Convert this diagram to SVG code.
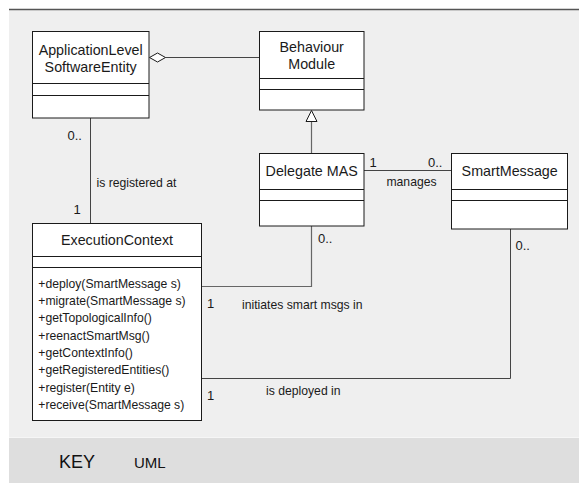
<svg xmlns="http://www.w3.org/2000/svg" width="579" height="483" viewBox="0 0 579 483">
  <style>
    .box { fill: #ffffff; stroke: #1a1a1a; stroke-width: 1; }
    .div { stroke: #1a1a1a; stroke-width: 1; }
    .conn { fill: none; stroke: #444444; stroke-width: 1; }
    .gen { fill: none; stroke: #666666; stroke-width: 1.2; }
    .title { font-family: "Liberation Sans", Arial, sans-serif; font-size: 14.3px; fill: #1a1a1a; text-anchor: middle; }
    .op { font-family: "Liberation Sans", Arial, sans-serif; font-size: 12.2px; fill: #1a1a1a; }
    .lbl { font-family: "Liberation Sans", Arial, sans-serif; font-size: 12.2px; fill: #1a1a1a; }
    .mult { font-family: "Liberation Sans", Arial, sans-serif; font-size: 13px; fill: #1a1a1a; }
    .key { font-family: "Liberation Sans", Arial, sans-serif; fill: #111111; }
  </style>

  <!-- canvas -->
  <rect x="0" y="0" width="579" height="483" fill="#ffffff"/>
  <rect x="9" y="9" width="570" height="428" fill="#efefef"/>
  <line x1="9" y1="9.5" x2="579" y2="9.5" stroke="#555555" stroke-width="1.5"/>
  <rect x="9" y="438" width="570" height="45" fill="#dedede"/>
  <line x1="9" y1="437.5" x2="579" y2="437.5" stroke="#f6f6f6" stroke-width="1"/>

  <!-- connectors -->
  <g id="connectors">
    <!-- aggregation: ApplicationLevelSoftwareEntity <> BehaviourModule -->
    <line class="conn" x1="165.5" y1="57.5" x2="259" y2="57.5"/>
    <polygon points="149.5,57.5 157.5,53 165.5,57.5 157.5,62" fill="#ffffff" stroke="#1a1a1a" stroke-width="1"/>
    <!-- generalization: DelegateMAS -> BehaviourModule -->
    <line class="gen" x1="311.5" y1="121.5" x2="311.5" y2="153"/>
    <polygon points="311.5,110.5 306,121.5 317,121.5" fill="#ffffff" stroke="#1a1a1a" stroke-width="1"/>
    <!-- is registered at -->
    <line class="conn" x1="90.5" y1="118" x2="90.5" y2="223"/>
    <!-- manages -->
    <line class="conn" x1="364" y1="170.5" x2="451" y2="170.5"/>
    <!-- initiates smart msgs in -->
    <polyline class="gen" points="201.5,286.5 311.5,286.5 311.5,226"/>
    <!-- is deployed in -->
    <polyline class="conn" points="201.5,378.5 510.5,378.5 510.5,229"/>

    <text class="mult" x="67.5" y="140">0..</text>
    <text class="lbl" x="96.5" y="186.5">is registered at</text>
    <text class="mult" x="73.5" y="214">1</text>
    <text class="mult" x="369.5" y="167">1</text>
    <text class="mult" x="428" y="167">0..</text>
    <text class="lbl" x="411.5" y="186" text-anchor="middle">manages</text>
    <text class="mult" x="318" y="243">0..</text>
    <text class="mult" x="207" y="308">1</text>
    <text class="lbl" x="242" y="309">initiates smart msgs in</text>
    <text class="mult" x="515.5" y="250">0..</text>
    <text class="mult" x="207" y="400">1</text>
    <text class="lbl" x="266" y="395">is deployed in</text>
  </g>

  <!-- ApplicationLevelSoftwareEntity -->
  <g id="app-level-software-entity">
    <rect class="box" x="32.5" y="31.5" width="116.5" height="86.5"/>
    <line class="div" x1="32.5" y1="83.5" x2="149" y2="83.5"/>
    <line class="div" x1="32.5" y1="95.5" x2="149" y2="95.5"/>
    <text class="title" x="90.7" y="55">ApplicationLevel</text>
    <text class="title" x="90.7" y="72">SoftwareEntity</text>
  </g>

  <!-- BehaviourModule -->
  <g id="behaviour-module">
    <rect class="box" x="259.5" y="31.5" width="104.5" height="78.5"/>
    <line class="div" x1="259.5" y1="78.5" x2="364" y2="78.5"/>
    <line class="div" x1="259.5" y1="89.5" x2="364" y2="89.5"/>
    <text class="title" x="311.7" y="52">Behaviour</text>
    <text class="title" x="311.7" y="69">Module</text>
  </g>

  <!-- DelegateMAS -->
  <g id="delegate-mas">
    <rect class="box" x="259.5" y="153.5" width="104.5" height="72.5"/>
    <line class="div" x1="259.5" y1="189.5" x2="364" y2="189.5"/>
    <line class="div" x1="259.5" y1="200.5" x2="364" y2="200.5"/>
    <text class="title" x="311.7" y="176">Delegate MAS</text>
  </g>

  <!-- SmartMessage -->
  <g id="smart-message">
    <rect class="box" x="451.5" y="153.5" width="116" height="75.5"/>
    <line class="div" x1="451.5" y1="189.5" x2="567.5" y2="189.5"/>
    <line class="div" x1="451.5" y1="200.5" x2="567.5" y2="200.5"/>
    <text class="title" x="509.7" y="176">SmartMessage</text>
  </g>

  <!-- ExecutionContext -->
  <g id="execution-context">
    <rect class="box" x="32.5" y="223.5" width="169" height="197"/>
    <line class="div" x1="32.5" y1="256.5" x2="201.5" y2="256.5"/>
    <line class="div" x1="32.5" y1="267.5" x2="201.5" y2="267.5"/>
    <text class="title" x="117" y="244.5">ExecutionContext</text>
    <text class="op" x="38.3" y="287.7">+deploy(SmartMessage s)</text>
    <text class="op" x="38.3" y="305">+migrate(SmartMessage s)</text>
    <text class="op" x="38.3" y="322.3">+getTopologicalInfo()</text>
    <text class="op" x="38.3" y="339.6">+reenactSmartMsg()</text>
    <text class="op" x="38.3" y="356.9">+getContextInfo()</text>
    <text class="op" x="38.3" y="374.2">+getRegisteredEntities()</text>
    <text class="op" x="38.3" y="391.5">+register(Entity e)</text>
    <text class="op" x="38.3" y="408.8">+receive(SmartMessage s)</text>
  </g>

  <!-- key -->
  <text class="key" x="59" y="468" font-size="18px">KEY</text>
  <text class="key" x="134" y="468" font-size="15px">UML</text>
</svg>
